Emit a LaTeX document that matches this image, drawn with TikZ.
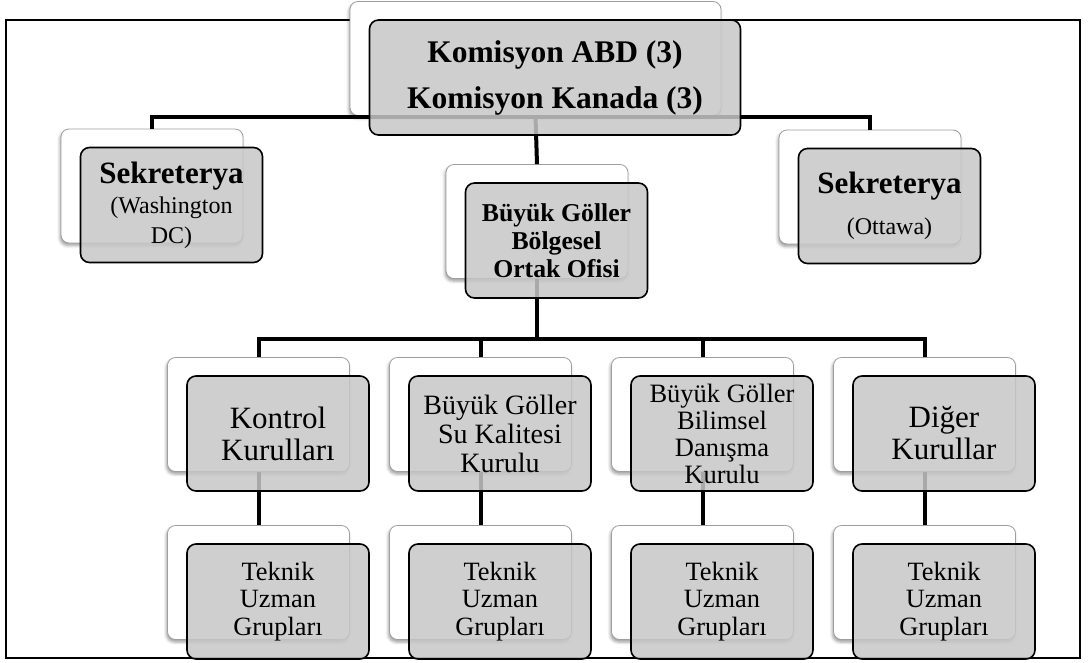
\documentclass[tikz,border=0pt]{standalone}
\usepackage{fontspec}
\setmainfont{Liberation Serif}
\usetikzlibrary{shadows.blur}

\begin{document}
\begin{tikzpicture}[x=1pt,y=-1pt,
  backbox/.style={draw=black!38, line width=0.8pt, fill=white, rounded corners=8pt,
    inner sep=0pt, minimum width=182pt, minimum height=114pt,
    blur shadow={shadow xshift=-1pt, shadow yshift=-2.5pt, shadow blur radius=3pt, shadow opacity=40}},
  frontbox/.style={draw=black, line width=1.6pt, fill=black!22, fill opacity=0.85,
    text opacity=1, rounded corners=9pt, inner sep=0pt, minimum width=182pt,
    minimum height=115pt, align=center},
  link/.style={line width=4pt, black},
  outline/.style={line width=1.6pt, black},
  titlefont/.style={font=\fontsize{31.5}{46}\selectfont\bfseries},
  officefont/.style={font=\fontsize{25.7}{28}\selectfont\bfseries},
  bigfont/.style={font=\fontsize{31}{32}\selectfont},
  midfont/.style={font=\fontsize{28}{29}\selectfont},
  smallfont/.style={font=\fontsize{26.4}{27.5}\selectfont},
  cityfont/.style={font=\fontsize{24}{30}\selectfont}
]
\useasboundingbox (0,0) rectangle (1088,662);

% outer frame
\draw[outline] (6,20) rectangle (1080,658);

% back (white) cards
\node[backbox, minimum width=371pt] (topB) at (535.5,58.5) {};
\node[backbox] (secLB) at (152,186) {};
\node[backbox] (secRB) at (870,187) {};
\node[backbox] (midB) at (537,221.5) {};
\node[backbox] (c1B) at (258.5,414.5) {};
\node[backbox] (c2B) at (480.5,414.5) {};
\node[backbox] (c3B) at (702.5,414.5) {};
\node[backbox] (c4B) at (924.5,414.5) {};
\node[backbox] (t1B) at (258.5,582.5) {};
\node[backbox] (t2B) at (480.5,582.5) {};
\node[backbox] (t3B) at (702.5,582.5) {};
\node[backbox] (t4B) at (924.5,582.5) {};

% connectors
\coordinate (hubTop) at (535.5,117);
\coordinate (hubLow) at (537,339);
\draw[link] (secLB.north) |- (hubTop) -| (secRB.north);
\draw[link] (topB.south) -- (midB.north);
\draw[link] (midB.south) -- (hubLow);
\draw[link] (c1B.north) |- (hubLow) -| (c4B.north);
\draw[link] (hubLow) -| (c2B.north);
\draw[link] (hubLow) -| (c3B.north);
\draw[link] (c1B.south) -- (t1B.north);
\draw[link] (c2B.south) -- (t2B.north);
\draw[link] (c3B.south) -- (t3B.north);
\draw[link] (c4B.south) -- (t4B.north);

% front (grey) cards with text
\node[frontbox, titlefont, minimum width=371pt] (topF) at ([shift={(19.5,19)}]topB.center)
  {Komisyon ABD (3)\\Komisyon Kanada (3)};
\node[frontbox, cityfont] (secLF) at ([shift={(19.5,19)}]secLB.center)
  {{\fontsize{31}{31}\selectfont\bfseries Sekreterya}\\(Washington\\DC)};
\node[frontbox, cityfont] (secRF) at ([shift={(19.5,19)}]secRB.center)
  {{\fontsize{31}{31}\selectfont\bfseries Sekreterya}\\[11pt](Ottawa)};
\node[frontbox, officefont] (midF) at ([shift={(19.5,19)}]midB.center)
  {Büyük Göller\\Bölgesel\\Ortak Ofisi};
\node[frontbox, bigfont] (c1F) at ([shift={(19.5,19)}]c1B.center)
  {Kontrol\\Kurulları};
\node[frontbox, midfont] (c2F) at ([shift={(19.5,19)}]c2B.center)
  {Büyük Göller\\Su Kalitesi\\Kurulu};
\node[frontbox, smallfont, font=\fontsize{26.5}{27}\selectfont] (c3F) at ([shift={(19.5,19)}]c3B.center)
  {Büyük Göller\\Bilimsel\\Danışma\\Kurulu};
\node[frontbox, bigfont] (c4F) at ([shift={(19.5,19)}]c4B.center)
  {Diğer\\Kurullar};
\foreach \i in {1,2,3,4}{
  \node[frontbox, smallfont] (t\i F) at ([shift={(19.5,19)}]t\i B.center)
    {Teknik\\Uzman\\Grupları};
}
\end{tikzpicture}
\end{document}
